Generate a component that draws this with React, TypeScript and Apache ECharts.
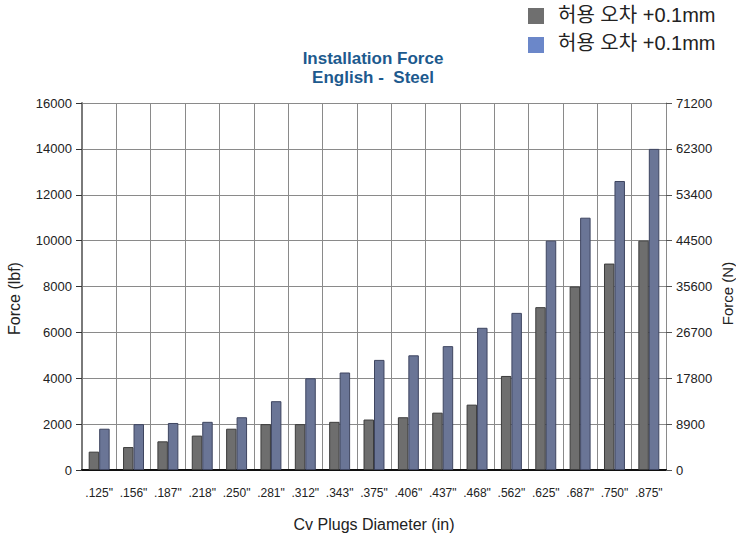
import React, { useEffect, useRef } from "react";
import * as echarts from "echarts";

const categories = ['.125"', '.156"', '.187"', '.218"', '.250"', '.281"', '.312"', '.343"', '.375"', '.406"', '.437"', '.468"', '.562"', '.625"', '.687"', '.750"', '.875"'];
const seriesGray = [800, 1000, 1250, 1500, 1800, 2000, 2000, 2100, 2200, 2300, 2500, 2850, 4100, 7100, 8000, 9000, 10000];
const seriesBlue = [1800, 2000, 2050, 2100, 2300, 3000, 4000, 4250, 4800, 5000, 5400, 6200, 6850, 10000, 11000, 12600, 14000];
const legendLabel = "허용 오차 +0.1mm";
const titleLines = ["Installation Force", "English -  Steel"];
const leftAxisName = "Force (lbf)";
const rightAxisName = "Force (N)";
const xAxisName = "Cv Plugs Diameter (in)";
const leftMax = 16000;
const leftInterval = 2000;
const rightMax = 71200;
const rightInterval = 8900;

const FONT = "'Liberation Sans', Arial, Helvetica, sans-serif";
const KFONT = "'Liberation Sans', 'Noto Sans CJK KR', sans-serif";

export default function App() {
  const ref = useRef<HTMLDivElement>(null);
  useEffect(() => {
    if (!ref.current) return;
    const chart = echarts.init(ref.current, undefined, { renderer: "svg" });
    chart.setOption({
      animation: false,
      backgroundColor: "#ffffff",
      title: {
        text: titleLines.join("\n"),
        left: 368,
        textAlign: "center",
        top: 44,
        textStyle: { fontFamily: FONT, fontSize: 17, fontWeight: "bold", color: "#1d5a8e", lineHeight: 19 },
      },
      graphic: [
        { type: "rect", left: 528, top: 8, shape: { width: 16, height: 16 }, style: { fill: "#6f6f6f" } },
        { type: "text", left: 558, top: 5, style: { text: legendLabel, fontFamily: KFONT, fontSize: 20, fill: "#222" } },
        { type: "rect", left: 528, top: 37, shape: { width: 16, height: 16 }, style: { fill: "#6b87c9" } },
        { type: "text", left: 558, top: 33, style: { text: legendLabel, fontFamily: KFONT, fontSize: 20, fill: "#222" } },
      ],
      grid: { left: 82, right: 70, top: 103, bottom: 66, containLabel: false, outerBoundsMode: "none" },
      xAxis: [
        {
          type: "category",
          data: categories,
          position: "bottom",
          name: xAxisName,
          nameLocation: "middle",
          nameGap: 46,
          nameTextStyle: { fontFamily: FONT, fontSize: 16, color: "#222" },
          axisLine: { lineStyle: { color: "#111", width: 2 } },
          axisTick: { show: false },
          axisLabel: { fontFamily: FONT, fontSize: 12, color: "#222", margin: 17, interval: 0 },
          splitLine: { show: true, lineStyle: { color: "#8a8a8a", width: 1 } },
        },
        {
          type: "category",
          data: categories,
          position: "top",
          axisLine: { lineStyle: { color: "#111", width: 1.5 } },
          axisTick: { show: false },
          axisLabel: { show: false },
          splitLine: { show: false },
        },
      ],
      yAxis: [
        {
          type: "value",
          min: 0,
          max: leftMax,
          interval: leftInterval,
          position: "left",
          name: leftAxisName,
          nameLocation: "middle",
          nameGap: 60,
          nameRotate: 90,
          nameTextStyle: { fontFamily: FONT, fontSize: 16, color: "#222", padding: [0, 24, 0, 0] },
          axisLine: { show: true, lineStyle: { color: "#7a7a7a", width: 2 } },
          axisTick: { show: true, inside: false, length: 6, lineStyle: { color: "#333" } },
          axisLabel: { fontFamily: FONT, fontSize: 13, color: "#222", margin: 10, formatter: (v: number) => String(v) },
          splitLine: { show: true, lineStyle: { color: "#8a8a8a", width: 1 } },
        },
        {
          type: "value",
          min: 0,
          max: rightMax,
          interval: rightInterval,
          position: "right",
          name: rightAxisName,
          nameLocation: "middle",
          nameGap: 54,
          nameRotate: 90,
          nameMoveOverlap: false,
          nameTextStyle: { fontFamily: FONT, fontSize: 15, color: "#222", padding: [0, 14, 0, 0] },
          axisLine: { show: true, lineStyle: { color: "#8a8a8a", width: 1 } },
          axisTick: { show: true, inside: false, length: 6, lineStyle: { color: "#555" } },
          axisLabel: { fontFamily: FONT, fontSize: 13, color: "#222", margin: 10, formatter: (v: number) => String(v) },
          splitLine: { show: false },
        },
      ],
      series: [
        {
          name: "gray",
          type: "bar",
          data: seriesGray,
          xAxisIndex: 0,
          yAxisIndex: 0,
          barGap: "0%",
          barCategoryGap: "39%",
          itemStyle: { color: "#6e6e6e", borderColor: "#3c3c3c", borderWidth: 1 },
        },
        {
          name: "blue",
          type: "bar",
          data: seriesBlue,
          xAxisIndex: 0,
          yAxisIndex: 0,
          barGap: "0%",
          barCategoryGap: "39%",
          itemStyle: { color: "#6a7596", borderColor: "#3e4560", borderWidth: 1 },
        },
      ],
    });
    return () => chart.dispose();
  }, []);
  return <div ref={ref} style={{ position: "fixed", left: 0, top: 0, width: 736, height: 536 }} />;
}
